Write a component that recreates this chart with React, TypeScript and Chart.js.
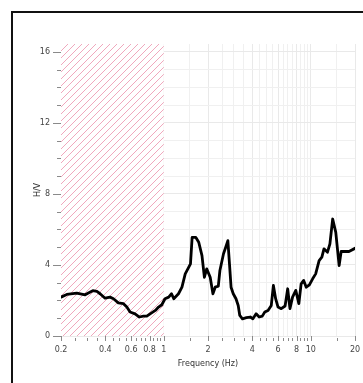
import { useEffect, useRef } from "react";
import { Chart, registerables } from "chart.js";

Chart.register(...registerables);

const freq = [
  0.2, 0.219, 0.256, 0.292, 0.307, 0.329, 0.351, 0.369, 0.399, 0.431, 0.455, 0.491,
  0.532, 0.561, 0.59, 0.638, 0.683, 0.727, 0.767, 0.808, 0.877, 0.922, 0.97,
  1.02, 1.08, 1.13, 1.17, 1.26, 1.33, 1.4, 1.48, 1.52, 1.56, 1.65, 1.73, 1.82, 1.89, 1.96,
  2.07, 2.16, 2.24, 2.35, 2.41, 2.55, 2.64, 2.73, 2.8, 2.87, 2.97, 3.1,
  3.21, 3.29, 3.43, 3.65, 3.88, 4.04, 4.25, 4.46, 4.68, 4.87, 5.12, 5.39,
  5.57, 5.77, 5.99, 6.3, 6.69, 6.97, 7.22, 7.52, 7.91, 8.3, 8.6, 8.95, 9.32, 9.79,
  10.3, 10.8, 11.4, 11.9, 12.3, 13.0, 13.5, 14.1, 14.8, 15.6, 16.1, 18.2, 20,
];
const hv = [
  2.19, 2.34, 2.42, 2.32, 2.42, 2.55, 2.51, 2.38, 2.13, 2.19, 2.1, 1.87,
  1.82, 1.63, 1.35, 1.25, 1.07, 1.12, 1.12, 1.25, 1.44, 1.63, 1.76,
  2.1, 2.19, 2.38, 2.1, 2.38, 2.75, 3.5, 3.88, 4.06, 5.56, 5.56, 5.28, 4.53, 3.31, 3.78,
  3.31, 2.38, 2.75, 2.81, 3.69, 4.63, 5.0, 5.37, 4.06, 2.75, 2.38, 2.1,
  1.72, 1.16, 0.97, 1.03, 1.07, 0.97, 1.25, 1.07, 1.12, 1.35, 1.44, 1.72,
  2.85, 2.1, 1.63, 1.54, 1.69, 2.66, 1.54, 2.19, 2.57, 1.82, 2.94, 3.13, 2.75, 2.88,
  3.22, 3.5, 4.25, 4.44, 4.91, 4.72, 5.19, 6.59, 5.84, 3.97, 4.76, 4.76, 4.94,
];

const xMajorTicks = [0.2, 0.4, 0.6, 0.8, 1, 2, 4, 6, 8, 10, 20];
const xMinorTicks = [
  0.25, 0.3, 0.35, 0.45, 0.5, 0.55, 0.65, 0.7, 0.75, 0.85, 0.9, 0.95,
  1.5, 2.5, 3, 3.5, 4.5, 5, 5.5, 6.5, 7, 7.5, 8.5, 9, 9.5, 15,
];
const yMajorTicks = [0, 4, 8, 12, 16];
const yMinorTicks = [1, 2, 3, 5, 6, 7, 9, 10, 11, 13, 14, 15];
const hatchRange = [0.2, 1];
const xTitle = "Frequency (Hz)";
const yTitle = "H/V";

const isIn = (list: number[], v: number) => list.some((m) => Math.abs(m - v) < 1e-9);

const FONT = "DejaVu Sans";

const decorPlugin = {
  id: "decor",
  beforeDatasetsDraw(chart: any) {
    const { ctx, chartArea: a, scales } = chart;
    const x = scales.x;
    const x0 = x.getPixelForValue(hatchRange[0]);
    const x1 = x.getPixelForValue(hatchRange[1]);
    const h = a.bottom - a.top;
    ctx.save();
    ctx.fillStyle = "#ffffff";
    ctx.fillRect(x0, a.top, x1 - x0, h);
    ctx.beginPath();
    ctx.rect(x0, a.top, x1 - x0, h);
    ctx.clip();
    ctx.strokeStyle = "rgba(230,110,145,0.6)";
    ctx.lineWidth = 1;
    for (let s = x0 - h; s < x1 + 2; s += 7) {
      ctx.beginPath();
      ctx.moveTo(s, a.bottom);
      ctx.lineTo(s + h, a.top);
      ctx.stroke();
    }
    ctx.restore();
  },
  afterDraw(chart: any) {
    const { ctx, chartArea: a, scales } = chart;
    const x = scales.x;
    const y = scales.y;
    ctx.save();
    ctx.strokeStyle = "#8a8a8a";
    ctx.lineWidth = 1;
    for (const v of yMajorTicks) {
      const p = Math.round(y.getPixelForValue(v)) + 0.5;
      ctx.beginPath();
      ctx.moveTo(a.left - 8, p);
      ctx.lineTo(a.left, p);
      ctx.stroke();
    }
    for (const v of yMinorTicks) {
      const p = Math.round(y.getPixelForValue(v)) + 0.5;
      ctx.beginPath();
      ctx.moveTo(a.left - 4, p);
      ctx.lineTo(a.left, p);
      ctx.stroke();
    }
    for (const v of xMajorTicks) {
      const p = Math.round(x.getPixelForValue(v)) + 0.5;
      ctx.beginPath();
      ctx.moveTo(p, a.bottom);
      ctx.lineTo(p, a.bottom + 5);
      ctx.stroke();
    }
    for (const v of xMinorTicks) {
      const p = Math.round(x.getPixelForValue(v)) + 0.5;
      ctx.beginPath();
      ctx.moveTo(p, a.bottom + 2);
      ctx.lineTo(p, a.bottom + 5);
      ctx.stroke();
    }
    ctx.restore();
  },
};

export default function App() {
  const ref = useRef<HTMLCanvasElement | null>(null);

  useEffect(() => {
    if (!ref.current) return;
    const chart = new Chart(ref.current, {
      type: "line",
      data: {
        datasets: [
          {
            data: freq.map((f, i) => ({ x: f, y: hv[i] })),
            borderColor: "#000000",
            borderWidth: 2.8,
            pointRadius: 0,
            tension: 0,
            borderJoinStyle: "round",
            borderCapStyle: "round",
          },
        ],
      },
      options: {
        animation: false,
        responsive: false,
        devicePixelRatio: 1,
        layout: { padding: { left: 0, top: 44, right: 8, bottom: 0 } },
        plugins: { legend: { display: false }, tooltip: { enabled: false } },
        scales: {
          x: {
            type: "logarithmic",
            min: 0.2,
            max: 20,
            afterBuildTicks: (s: any) => {
              s.ticks = [...xMajorTicks, ...xMinorTicks]
                .sort((p, q) => p - q)
                .map((v) => ({ value: v }));
            },
            afterFit: (s: any) => {
              s.height = 47;
              s.paddingLeft = 0;
              s.paddingRight = 0;
            },
            border: { display: false },
            grid: {
              drawTicks: false,
              color: (c: any) => (c.tick && isIn(xMajorTicks, c.tick.value) ? "#e9e9e9" : "#f0f0f0"),
              lineWidth: 1,
            },
            ticks: {
              autoSkip: false,
              maxRotation: 0,
              padding: 9,
              color: "#444444",
              font: { family: FONT, size: 8 },
              callback: (v: any) => (isIn(xMajorTicks, Number(v)) ? String(Number(v)) : ""),
            },
            title: {
              display: true,
              text: xTitle,
              color: "#333333",
              font: { family: FONT, size: 8 },
              padding: { top: 0, bottom: 14.7 },
            },
          },
          y: {
            type: "linear",
            min: 0,
            max: 16.45,
            afterBuildTicks: (s: any) => {
              s.ticks = [...yMajorTicks, ...yMinorTicks]
                .sort((p, q) => p - q)
                .map((v) => ({ value: v }));
            },
            afterFit: (s: any) => {
              s.width = 61;
              s.paddingTop = 0;
              s.paddingBottom = 0;
            },
            border: { display: false },
            grid: {
              drawTicks: false,
              color: (c: any) => (c.tick && isIn(yMajorTicks, c.tick.value) ? "#e9e9e9" : "#f0f0f0"),
              lineWidth: 1,
            },
            ticks: {
              autoSkip: false,
              padding: 11,
              color: "#444444",
              font: { family: FONT, size: 8 },
              callback: (v: any) => (isIn(yMajorTicks, Number(v)) ? String(Number(v)) : ""),
            },
            title: {
              display: true,
              text: yTitle,
              color: "#333333",
              font: { family: FONT, size: 8 },
              padding: { top: 33, bottom: 0 },
            },
          },
        },
      },
      plugins: [decorPlugin],
    } as any);
    return () => chart.destroy();
  }, []);

  return (
    <div
      style={{
        position: "fixed",
        left: 0,
        top: 0,
        width: 363,
        height: 383,
        overflow: "hidden",
        background: "#ffffff",
      }}
    >
      <div
        style={{
          position: "absolute",
          left: 11,
          top: 11,
          width: 400,
          height: 400,
          borderLeft: "2px solid #111111",
          borderTop: "2px solid #111111",
        }}
      />
      <canvas
        ref={ref}
        width={363}
        height={383}
        style={{ position: "absolute", left: 0, top: 0, width: 363, height: 383 }}
      />
    </div>
  );
}
